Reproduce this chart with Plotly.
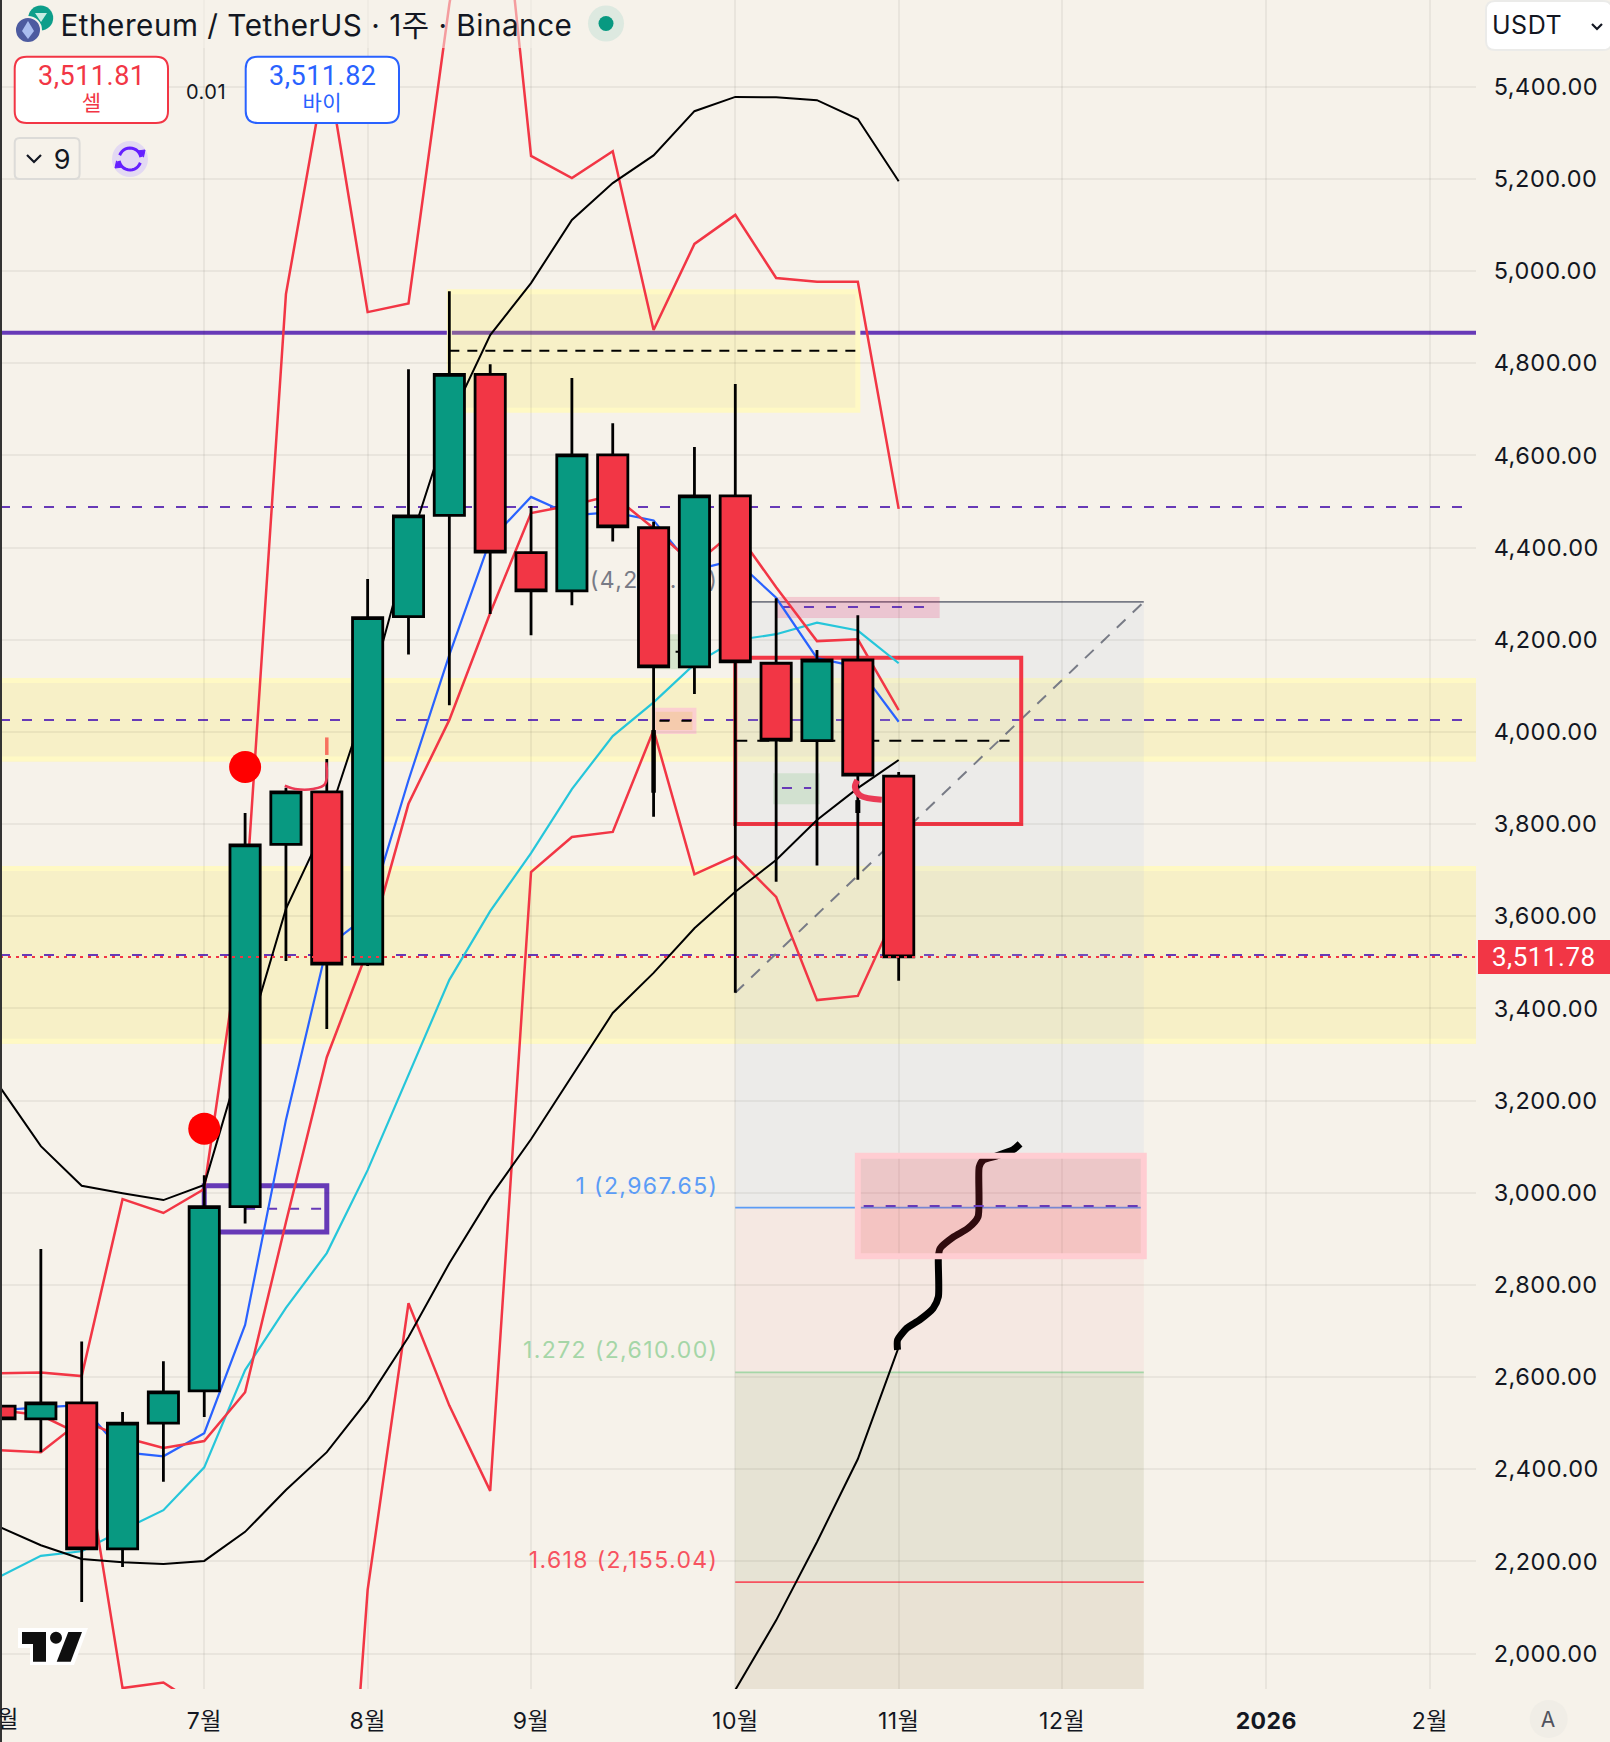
import numpy as np
import pandas as pd
import plotly.graph_objects as go

# ---------- data ----------
candle_start = "2025-05-26"
opens  = [2537,2509,2544,2227,2500,2570,2970,3756,3870,3496,4250,4470,4776,4389,4306,4601,4443,4141,4512,4149,3981,4156,3904]
highs  = [2537,2878,2677,2524,2634,3038,3824,3879,3941,4332,4787,4956,4798,4490,4768,4670,4456,4618,4755,4290,4178,4253,3913]
lows   = [2509,2437,2112,2188,2373,2513,2933,3503,3355,3492,4168,4058,4256,4210,4275,4413,3816,4082,3434,3675,3710,3679,3460]
closes = [2509,2544,2227,2500,2568,2970,3755,3870,3496,4248,4469,4776,4390,4306,4601,4445,4141,4512,4152,3982,4156,3906,3511.78]

# line series start one week before the first candle (2025-05-19)
line_start = "2025-05-19"
bb_upper = [3342,3229,3101,3015,2999,2984,3017,3314,3616,3804,4073,4399,4674,4861,4974,5111,5191,5251,5347,5378,5377,5371,5330,5195]
bb_mid   = [2309,2274,2235,2205,2198,2194,2201,2264,2355,2437,2550,2687,2847,2991,3116,3253,3390,3477,3574,3653,3722,3809,3878,3939]
bb_lower_dates = ["2025-09-22","2025-09-29","2025-10-06","2025-10-13","2025-10-20","2025-10-27"]
bb_lower = [1784,1921,2072,2242,2422,2665]
red_a = [2608,2608,2610,2602,2986,2956,3008,3618,4950,5451,4911,4930,5579,6098,5250,5202,5260,4872,5059,5122,4985,4977,4977,4484]
red_b = [2441,2441,2437,2506,2470,2446,2461,2567,2936,3294,3526,3844,4026,4258,4475,4492,4514,4442,4362,4438,4314,4197,4201,4047]
red_c = [2528,2528,2517,2474,1925,1937,1880,1500,1200,920,2138,2760,2538,2353,3696,3772,3783,4004,3691,3731,3642,3418,3427,3621]
blue  = [2528,2528,2534,2539,2437,2428,2478,2713,3158,3533,3602,3895,4167,4416,4510,4470,4477,4459,4351,4373,4291,4160,4141,4022]
cyan  = [2150,2167,2212,2222,2268,2311,2404,2615,2750,2869,3049,3255,3462,3611,3737,3876,3991,4064,4147,4199,4212,4237,4220,4149]

signal_dates = ["2025-06-30","2025-07-07"]
signal_prices = [3139,3924]

brush_black_days = [153.8,153.8,155.4,157.6,159.9,160.8,160.8,161.1,163.4,165.9,167.6,167.8,168.5,170.8,173.6,174.8]
brush_black_vals = [2659,2680,2706,2724,2749,2774,2861,2879,2904,2923,2948,3056,3071,3080,3093,3106]
brush_red1_days = [146.9,146.5,147.4,151.1]
brush_red1_vals = [3895,3880,3862,3853]
brush_red2_days = [48.8,50.6,53.6,55.7,55.9]
brush_red2_vals = [3883,3876,3876,3887,3934]

fib_labels = ["0 (4,282.69)","1 (2,967.65)","1.272 (2,610.00)","1.618 (2,155.04)"]
fib_levels = [4282,2967.65,2610,2155.04]
fib_colors = ["#787b86","#5b9cf6","#a5d6a7","#f7525f"]
fib_fills  = ["rgba(180,195,230,0.15)","rgba(242,54,69,0.05)","rgba(100,110,40,0.11)","rgba(130,100,40,0.11)"]

ytick_values = list(range(2000,5401,200))
xtick_dates = ["2025-05-26","2025-06-30","2025-07-28","2025-08-25","2025-09-29","2025-10-27","2025-11-24","2025-12-29","2026-01-26"]
xtick_text = ["6월","7월","8월","9월","10월","11월","12월","<b>2026</b>","2월"]

solid_level = 4866
dash_levels = [4488,4025.6,3516]
last_price = 3511.78
bands = [(3936,4117),(3323.5,3709)]

BG = "#f6f2ea"
RED = "#f23645"
GREEN = "#089981"
BLUE = "#2962ff"
CYAN = "#26c6da"
PURPLE = "#673ab7"
FONT = "Inter, 'Noto Sans CJK KR', sans-serif"
NUMFONT = "Roboto, 'Noto Sans CJK KR', sans-serif"

# ---------- layout constants ----------
W, H = 1610, 1742
PW, PH = 1476, 1689
YMIN, YMAX = 1923, 5588.3
XMIN = "2025-05-26 00:00"
XMAX = "2026-02-02 22:19"
base = pd.Timestamp(candle_start)
dates = pd.date_range(candle_start, periods=len(opens), freq="7D")
ldates = pd.date_range(line_start, periods=len(blue), freq="7D")

def days(lst):
    return [base + pd.Timedelta(days=d) for d in lst]

def X(p): return p / PW
def Y(p): return 1 - p / PH

shapes_below, shapes_above, annots = [], [], []

def below(**k): shapes_below.append(dict(layer="below", **k))
def above(**k): shapes_above.append(dict(layer="above", **k))

def drect(d0, d1, p0, p1, fill="rgba(0,0,0,0)", lc=None, lw=0, top=False):
    s = dict(type="rect", xref="x", yref="y", x0=d0, x1=d1, y0=p0, y1=p1, fillcolor=fill,
             line=dict(color=lc or "rgba(0,0,0,0)", width=lw))
    (above if top else below)(**s)

def dline(d0, d1, p0, p1, color, width, dash="solid"):
    below(type="line", xref="x", yref="y", x0=d0, x1=d1, y0=p0, y1=p1,
          line=dict(color=color, width=width, dash=dash))

def prect(x0, y0, x1, y1, fill, lc=None, lw=0, r=0):
    if r:
        path = (f"M {X(x0+r)} {Y(y0)} L {X(x1-r)} {Y(y0)} Q {X(x1)} {Y(y0)} {X(x1)} {Y(y0+r)} "
                f"L {X(x1)} {Y(y1-r)} Q {X(x1)} {Y(y1)} {X(x1-r)} {Y(y1)} L {X(x0+r)} {Y(y1)} "
                f"Q {X(x0)} {Y(y1)} {X(x0)} {Y(y1-r)} L {X(x0)} {Y(y0+r)} Q {X(x0)} {Y(y0)} {X(x0+r)} {Y(y0)} Z")
        above(type="path", xref="paper", yref="paper", path=path, fillcolor=fill,
              line=dict(color=lc or "rgba(0,0,0,0)", width=lw))
    else:
        above(type="rect", xref="paper", yref="paper", x0=X(x0), x1=X(x1), y0=Y(y1), y1=Y(y0),
              fillcolor=fill, line=dict(color=lc or "rgba(0,0,0,0)", width=lw))

def pcircle(cx, cy, r, fill, lc=None, lw=0):
    above(type="circle", xref="paper", yref="paper", x0=X(cx-r), x1=X(cx+r), y0=Y(cy+r), y1=Y(cy-r),
          fillcolor=fill, line=dict(color=lc or "rgba(0,0,0,0)", width=lw))

def ppath(pts, fill="rgba(0,0,0,0)", lc=None, lw=0, close=True):
    d = "M " + " L ".join(f"{X(a)} {Y(b)}" for a, b in pts) + (" Z" if close else "")
    above(type="path", xref="paper", yref="paper", path=d, fillcolor=fill,
          line=dict(color=lc or "rgba(0,0,0,0)", width=lw))

def text(px, py, s, size, color, anchor="center", family=FONT):
    annots.append(dict(xref="paper", yref="paper", x=X(px), y=Y(py), text=s, showarrow=False,
                       xanchor=anchor, yanchor="middle", font=dict(family=family, size=size, color=color),
                       borderpad=0, borderwidth=0))

# purple solid line (under zones)
below(type="line", xref="paper", yref="y", x0=0, x1=1, y0=solid_level, y1=solid_level,
      line=dict(color=PURPLE, width=4))

# fib tool
FIB_L, FIB_R = "2025-09-29", "2025-12-08"
fib_edges = fib_levels + [YMIN]
for i in range(4):
    drect(FIB_L, FIB_R, fib_edges[i+1], fib_edges[i], fill=fib_fills[i])
for lv, col in zip(fib_levels, fib_colors):
    dline(FIB_L, FIB_R, lv, lv, col, 1.8)
dline(FIB_L, FIB_R, 3434, 4282, "#787b86", 2, "12px,10px")

# yellow bands
YFILL = "rgba(255,235,59,0.2)"
YEDGE = "#fff9c4"
for lo, hi in bands:
    below(type="rect", xref="paper", yref="y", x0=0, x1=1, y0=lo, y1=hi, fillcolor=YFILL,
          line=dict(width=0))
    for edge in (lo, hi):
        off = 2.5/0.4608 * (1 if edge == lo else -1)
        below(type="line", xref="paper", yref="y", x0=0, x1=1, y0=edge+off, y1=edge+off,
              line=dict(color=YEDGE, width=5))

# yellow zone top
drect("2025-08-11", "2025-10-20", 4698, 4955, fill=YFILL, lc=YEDGE, lw=5)
dline("2025-08-11", "2025-10-20", 4827, 4827, "#000", 2, "10px,8px")

# dashed purple levels
for lv in dash_levels:
    below(type="line", xref="paper", yref="y", x0=0, x1=0.995, y0=lv, y1=lv,
          line=dict(color=PURPLE, width=2, dash="10px,12px"))

# small zones
drect("2025-10-06", "2025-11-03", 4247, 4293, fill="rgba(233,30,99,0.18)", lc="rgba(233,30,99,0.02)", lw=1)
dline("2025-10-07", "2025-11-02", 4271, 4271, PURPLE, 2, "10px,12px")
drect("2025-09-15", "2025-09-22", 4000, 4048, fill="rgba(242,54,69,0.2)", lc="#fbcfd0", lw=4)
dline("2025-09-16", "2025-09-22", 4024, 4024, "#000", 2, "10px,12px")
drect("2025-09-15", "2025-09-22", 4136, 4212, fill="rgba(76,175,80,0.18)")
dline("2025-09-15", "2025-09-22", 4174, 4174, "#000", 2, "10px,12px")
drect("2025-10-05 12:00", "2025-10-13 12:00", 3843, 3910, fill="rgba(76,175,80,0.16)")
dline("2025-10-07", "2025-10-12", 3878, 3878, PURPLE, 2, "10px,12px")

# red rectangle and its midline
drect("2025-09-29", "2025-11-17", 3800, 4161, lc=RED, lw=4)
dline("2025-09-29", "2025-11-15", 3981, 3981, "#000", 2, "12px,10px")

# purple rectangle
drect("2025-06-30", "2025-07-21", 2915, 3015, lc=PURPLE, lw=5)
dline("2025-07-07", "2025-07-21", 2965, 2965, PURPLE, 2, "10px,12px")

# ---------- traces ----------
fig = go.Figure()
def ln(x, y, color, width=2.0, z=0, **k):
    fig.add_trace(go.Scatter(x=x, y=y, mode="lines", line=dict(color=color, width=width, **k),
                             hoverinfo="skip", showlegend=False, zorder=z))

ln(ldates, cyan, CYAN, 2.2)
ln(ldates, blue, BLUE, 2.2)
ln(ldates, red_c, RED, 2.5)
ln(ldates, red_b, RED, 2.5)
ln(ldates, red_a, RED, 2.5)
ln(ldates, bb_upper, "#000")
ln(ldates, bb_mid, "#000")
ln(bb_lower_dates, bb_lower, "#000")

# fib labels sit behind the candles, a fixed price step above their level
label_dates = [pd.Timestamp(FIB_L) - pd.Timedelta(days=2.9)] * 4
fig.add_trace(go.Scatter(x=label_dates, y=[v + 43 for v in fib_levels], mode="text",
                         text=fib_labels, textposition="middle left",
                         textfont=dict(family=FONT, size=23, color=fib_colors),
                         hoverinfo="skip", showlegend=False, zorder=0))

ln(days(brush_black_days), brush_black_vals, "#000", 7, shape="spline", smoothing=0.6)

fig.add_trace(go.Candlestick(
    x=dates, open=opens, high=highs, low=lows, close=closes,
    increasing=dict(fillcolor=GREEN, line=dict(color="#000", width=2.8)),
    decreasing=dict(fillcolor=RED, line=dict(color="#000", width=2.8)),
    whiskerwidth=0, hoverinfo="skip", showlegend=False, zorder=1))

# thick marks on top of the wicks
ln(["2025-09-15", "2025-09-15"], [3868, 4004], "#000", 4.5, z=2)
ln(["2025-10-20", "2025-10-20"], [3824, 3852], "#000", 5, z=2)
ln(days(brush_red1_days), brush_red1_vals, "#ea3a55", 6, z=2, shape="spline")
ln(days(brush_red2_days), brush_red2_vals, "#ea3a55", 2.6, z=2, shape="spline")
ln(["2025-07-21", "2025-07-21"], [3950, 3988], "#f7715f", 3.5, z=2)

fig.add_trace(go.Scatter(x=signal_dates, y=signal_prices, mode="markers",
                         marker=dict(color="#ff0000", size=32, line=dict(width=0)),
                         hoverinfo="skip", showlegend=False, zorder=2))

# ---------- above-layer overlays ----------
drect("2025-10-20", "2025-12-08", 2862, 3080, fill="rgba(242,54,69,0.2)", lc="#ffcdd2", lw=6, top=True)
above(type="line", xref="x", yref="y", x0="2025-10-21", x1="2025-12-07", y0=2971, y1=2971,
      line=dict(color=PURPLE, width=2, dash="10px,12px"))
above(type="line", xref="paper", yref="y", x0=0, x1=1, y0=last_price, y1=last_price,
      line=dict(color=RED, width=2, dash="3px,5px"))

# header
prect(0, 0, 625, 48, "rgba(246,242,234,0.55)")
pcircle(40.7, 18, 12.5, "#0d9e8a")
ppath([(35, 13), (47, 13), (41, 22)], fill="#c7ece3")
pcircle(28, 30, 13, "#4d5ba0", lc=BG, lw=2)
ppath([(28, 21), (34, 31), (28, 39), (22, 31)], fill="#a9bdf0")
text(69, 25, "Ethereum / TetherUS · 1주 · Binance", 29.7, "#131722", "left")
pcircle(606, 23.5, 18, "#dde9e0")
pcircle(606, 23.5, 7.5, GREEN)

prect(14.7, 56.7, 168, 123, "#ffffff", RED, 2, 12)
text(91, 76, "3,511.81", 27, RED, family=NUMFONT)
text(91, 103, "셀", 21, RED)
text(206, 92, "0.01", 20, "#131722")
prect(245.7, 56.7, 399, 123, "#ffffff", BLUE, 2, 12)
text(322, 76, "3,511.82", 27, BLUE, family=NUMFONT)
text(322, 103, "바이", 21, BLUE)

prect(14.7, 138, 79.6, 179, "rgba(0,0,0,0)", "#dcdbd8", 2, 5)
ppath([(27, 155), (34, 162), (41, 155)], lc="#131722", lw=2.2, close=False)
text(62, 159, "9", 27, "#131722")

pcircle(130, 159, 18, "#e3d9f3")
for a0, a1 in ((200, 350), (20, 170)):
    ang = np.radians(np.linspace(a0, a1, 14))
    ppath([(130 + 11 * np.cos(t), 159 + 11 * np.sin(t)) for t in ang], lc="#651fff", lw=3, close=False)
ppath([(143.5, 157), (137, 151), (145, 150)], fill="#651fff", lc="#651fff", lw=1)
ppath([(116.5, 161), (123, 167), (115, 168)], fill="#651fff", lc="#651fff", lw=1)

# USDT selector
prect(1486, 1, 1612, 50, "#ffffff", "#ebebe9", 2, 9)
text(1493, 25, "USDT", 25, "#131722", "left")
ppath([(1592, 24), (1597, 29), (1602, 24)], lc="#131722", lw=2.2, close=False)

# last price tag
above(type="rect", xref="paper", yref="paper", x0=X(1478), x1=X(1612), y0=Y(974), y1=Y(940),
      fillcolor=RED, line=dict(width=0))
text(1494, 957, "3,511.78", 26, "#ffffff", "left", family=NUMFONT)

# auto button
pcircle(1548.7, 1719, 19, "#f0ede6")
text(1548.7, 1719, "A", 21, "#50535e")

# first month label, cut by the window's left edge
text(0, 1719, xtick_text[0], 23, "#131722")

# watermark
ppath([(18, 1628), (88, 1628), (74, 1665), (30, 1665), (30, 1648), (18, 1648)], fill="#ffffff")
ppath([(22, 1632), (46, 1632), (46, 1661.7), (33, 1661.7), (33, 1644), (22, 1644)], fill="#0f0f0f")
ppath([(68.3, 1632), (82, 1632), (70.7, 1661.7), (56.7, 1661.7)], fill="#0f0f0f")
pcircle(56, 1637.7, 6, "#0f0f0f")

# left window edge
prect(0, 0, 2, 1742, "#333333")

fig.update_layout(
    width=W, height=H, margin=dict(l=0, r=W-PW, t=0, b=H-PH, pad=0),
    paper_bgcolor=BG, plot_bgcolor=BG, showlegend=False, boxmode="overlay", boxgap=0.26, boxgroupgap=0,
    shapes=shapes_below + shapes_above, annotations=annots, hovermode=False,
    font=dict(family=FONT),
    xaxis=dict(type="date", range=[XMIN, XMAX], tickvals=xtick_dates, ticktext=xtick_text,
               showgrid=True, gridcolor="rgba(40,30,10,0.06)", gridwidth=2, zeroline=False,
               showline=False, ticks="outside", ticklen=11, tickcolor="rgba(0,0,0,0)",
               tickfont=dict(family=FONT, size=23, color="#131722"), rangeslider=dict(visible=False),
               tickangle=0),
    yaxis=dict(side="right", range=[YMIN, YMAX], tickvals=ytick_values, tickformat=",.2f",
               showgrid=True, gridcolor="rgba(40,30,10,0.06)", gridwidth=2, zeroline=False,
               showline=False, ticks="outside", ticklen=12, tickcolor="rgba(0,0,0,0)",
               tickfont=dict(family=FONT, size=23.5, color="#131722")),
)

page_script = """
document.body.style.margin = '0';
document.body.style.overflow = 'hidden';
document.body.style.background = '#f6f2ea';
var st = document.createElement('style');
st.textContent = '.main-svg text{letter-spacing:0.5px;}' +
                 '.textpoint text{letter-spacing:1.4px;}';
document.head.appendChild(st);
Plotly.redraw('{plot_id}');
"""
fig.write_html("out.html", post_script=page_script, config=dict(displayModeBar=False))
